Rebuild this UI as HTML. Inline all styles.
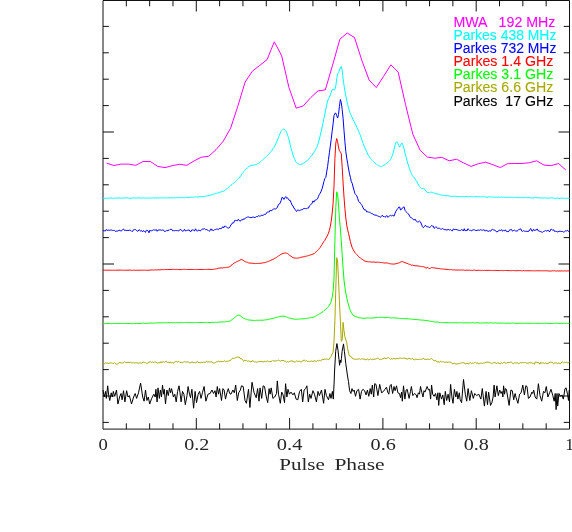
<!DOCTYPE html>
<html><head><meta charset="utf-8"><title>Pulse profiles</title>
<style>
html,body{margin:0;padding:0;background:#fff;}
body{width:572px;height:532px;overflow:hidden;font-family:"Liberation Sans",sans-serif;}
svg{display:block;will-change:transform;}
</style></head><body>
<svg width="572" height="532" viewBox="0 0 572 532">
<rect width="572" height="532" fill="#fff"/>
<path d="M103.00,0.50 H569.50 V429.10 H103.00 Z" fill="none" stroke="#111" stroke-width="1"/>
<path d="M126.33,429.10 v-5.80 M126.33,0.50 v5.80 M149.65,429.10 v-5.80 M149.65,0.50 v5.80 M172.97,429.10 v-5.80 M172.97,0.50 v5.80 M196.30,429.10 v-11.00 M196.30,0.50 v11.00 M219.62,429.10 v-5.80 M219.62,0.50 v5.80 M242.95,429.10 v-5.80 M242.95,0.50 v5.80 M266.27,429.10 v-5.80 M266.27,0.50 v5.80 M289.60,429.10 v-11.00 M289.60,0.50 v11.00 M312.93,429.10 v-5.80 M312.93,0.50 v5.80 M336.25,429.10 v-5.80 M336.25,0.50 v5.80 M359.57,429.10 v-5.80 M359.57,0.50 v5.80 M382.90,429.10 v-11.00 M382.90,0.50 v11.00 M406.23,429.10 v-5.80 M406.23,0.50 v5.80 M429.55,429.10 v-5.80 M429.55,0.50 v5.80 M452.88,429.10 v-5.80 M452.88,0.50 v5.80 M476.20,429.10 v-11.00 M476.20,0.50 v11.00 M499.52,429.10 v-5.80 M499.52,0.50 v5.80 M522.85,429.10 v-5.80 M522.85,0.50 v5.80 M546.17,429.10 v-5.80 M546.17,0.50 v5.80 M103.00,26.40 h5.80 M569.50,26.40 h-5.80 M103.00,52.80 h5.80 M569.50,52.80 h-5.80 M103.00,79.20 h5.80 M569.50,79.20 h-5.80 M103.00,105.60 h5.80 M569.50,105.60 h-5.80 M103.00,132.00 h11.00 M569.50,132.00 h-11.00 M103.00,158.40 h5.80 M569.50,158.40 h-5.80 M103.00,184.80 h5.80 M569.50,184.80 h-5.80 M103.00,211.20 h5.80 M569.50,211.20 h-5.80 M103.00,237.60 h5.80 M569.50,237.60 h-5.80 M103.00,264.00 h11.00 M569.50,264.00 h-11.00 M103.00,290.40 h5.80 M569.50,290.40 h-5.80 M103.00,316.80 h5.80 M569.50,316.80 h-5.80 M103.00,343.20 h5.80 M569.50,343.20 h-5.80 M103.00,369.60 h5.80 M569.50,369.60 h-5.80 M103.00,396.00 h11.00 M569.50,396.00 h-11.00 M103.00,422.40 h5.80 M569.50,422.40 h-5.80" fill="none" stroke="#111" stroke-width="1"/>
<path d="M106.6,163.2 L113.9,165.5 L121.2,164.1 L128.5,164.1 L135.8,165.3 L143.1,161.5 L150.4,161.5 L157.7,166.4 L165.0,167.6 L172.2,165.7 L179.5,164.3 L186.8,165.3 L194.1,160.9 L201.4,157.2 L208.7,156.3 L216.0,149.7 L223.3,141.1 L230.6,128.2 L237.8,106.3 L245.1,82.1 L252.4,71.1 L259.7,65.5 L267.0,59.7 L274.3,41.8 L281.6,55.5 L288.9,87.4 L296.2,108.2 L303.4,105.8 L310.7,97.6 L318.0,90.9 L325.3,89.9 L332.6,65.1 L339.9,39.2 L347.2,33.0 L354.5,37.5 L361.8,60.3 L369.1,80.0 L376.3,87.6 L383.6,76.3 L390.9,64.8 L398.2,72.1 L405.5,104.5 L412.8,134.1 L420.1,150.2 L427.4,157.1 L434.7,158.2 L441.9,157.4 L449.2,160.8 L456.5,159.2 L463.8,163.0 L471.1,166.4 L478.4,163.7 L485.7,162.2 L493.0,164.8 L500.3,167.5 L507.5,163.7 L514.8,163.5 L522.1,163.5 L529.4,162.7 L536.7,160.8 L544.0,165.1 L551.3,165.6 L558.6,163.5 L565.9,170.1" fill="none" stroke="#ff00ff" stroke-width="1" stroke-linejoin="round"/>
<path d="M103.0,198.1 L104.4,198.4 L105.3,198.2 L106.2,198.2 L107.1,198.2 L108.0,198.1 L108.9,198.0 L109.8,198.3 L110.7,198.2 L111.7,197.9 L112.6,198.4 L113.5,198.2 L114.4,198.0 L115.3,198.2 L116.2,198.0 L117.1,198.1 L118.0,198.2 L118.9,197.9 L119.9,198.1 L120.8,198.2 L121.7,198.2 L122.6,198.0 L123.5,198.1 L124.4,197.8 L125.3,198.0 L126.2,198.1 L127.1,197.8 L128.1,198.0 L129.0,198.2 L129.9,198.3 L130.8,198.1 L131.7,198.1 L132.6,197.9 L133.5,197.9 L134.4,197.8 L135.3,198.1 L136.3,198.1 L137.2,197.9 L138.1,197.9 L139.0,198.0 L139.9,198.0 L140.8,198.0 L141.7,198.2 L142.6,198.0 L143.5,198.0 L144.5,197.9 L145.4,198.0 L146.3,198.2 L147.2,198.0 L148.1,198.0 L149.0,198.1 L149.9,198.0 L150.8,198.1 L151.7,198.1 L152.7,198.1 L153.6,197.9 L154.5,198.0 L155.4,197.8 L156.3,198.0 L157.2,197.8 L158.1,198.0 L159.0,198.0 L159.9,197.9 L160.9,198.0 L161.8,197.8 L162.7,197.9 L163.6,198.0 L164.5,197.8 L165.4,198.0 L166.3,197.8 L167.2,197.8 L168.1,197.8 L169.1,197.9 L170.0,197.9 L170.9,197.7 L171.8,197.8 L172.7,198.0 L173.6,197.8 L174.5,197.7 L175.4,197.8 L176.3,197.7 L177.3,197.6 L178.2,197.5 L179.1,197.8 L180.0,197.6 L180.9,197.6 L181.8,197.5 L182.7,197.8 L183.6,197.7 L184.5,197.7 L185.5,197.5 L186.4,197.5 L187.3,197.6 L188.2,197.5 L189.1,197.4 L190.0,197.3 L190.9,197.3 L191.8,197.2 L192.7,197.1 L193.7,197.2 L194.6,197.1 L195.5,196.8 L196.4,197.0 L197.3,197.1 L198.2,196.9 L199.1,196.6 L200.0,196.7 L200.9,196.7 L201.9,196.6 L202.8,196.4 L203.7,196.6 L204.6,196.5 L205.5,196.1 L206.4,196.1 L207.3,195.9 L208.2,195.7 L209.1,195.6 L210.1,195.3 L211.0,194.9 L211.9,194.6 L212.8,194.3 L213.7,194.1 L214.6,194.0 L215.5,193.6 L216.4,193.3 L217.3,193.1 L218.3,192.9 L219.2,192.7 L220.1,192.2 L221.0,191.9 L221.9,191.7 L222.8,191.3 L223.7,191.2 L224.6,190.4 L225.5,189.8 L226.5,188.9 L227.4,188.4 L228.3,187.6 L229.2,187.1 L230.1,186.3 L231.0,185.4 L231.9,184.7 L232.8,183.6 L233.7,183.0 L234.7,182.4 L235.6,181.5 L236.5,180.6 L237.4,179.7 L238.3,178.6 L239.2,177.6 L240.1,176.8 L241.0,175.7 L241.9,173.8 L242.9,172.8 L243.8,171.5 L244.7,170.6 L245.6,169.4 L246.5,168.6 L247.4,167.9 L248.3,167.0 L249.2,166.4 L250.1,165.9 L251.1,165.6 L252.0,165.4 L252.9,165.2 L253.8,165.0 L254.7,164.8 L255.6,164.6 L256.5,164.5 L257.4,163.9 L258.3,163.4 L259.3,162.8 L260.2,162.1 L261.1,161.3 L262.0,160.4 L262.9,159.5 L263.8,158.8 L264.7,158.0 L265.6,157.4 L266.5,156.4 L267.5,155.6 L268.4,154.5 L269.3,153.7 L270.2,152.3 L271.1,151.4 L272.0,150.2 L272.9,148.6 L273.8,147.6 L274.7,145.8 L275.7,144.1 L276.6,142.0 L277.5,140.0 L278.4,137.6 L279.3,135.4 L280.2,133.2 L281.1,131.3 L282.0,130.3 L282.9,129.4 L283.9,129.0 L284.8,129.7 L285.7,130.6 L286.6,132.3 L287.5,134.8 L288.4,137.5 L289.3,140.6 L290.2,144.5 L291.1,148.5 L292.1,151.7 L293.0,154.9 L293.9,157.5 L294.8,159.5 L295.7,161.7 L296.6,162.5 L297.5,163.3 L298.4,164.0 L299.3,164.3 L300.3,164.4 L301.2,164.2 L302.1,164.1 L303.0,163.5 L303.9,163.1 L304.8,162.3 L305.7,161.7 L306.6,161.2 L307.5,160.0 L308.5,159.4 L309.4,158.1 L310.3,157.3 L311.2,156.1 L312.1,155.1 L313.0,153.8 L313.9,152.5 L314.8,151.2 L315.7,149.3 L316.7,147.6 L317.6,145.0 L318.5,142.3 L319.4,139.0 L320.3,135.0 L321.2,131.3 L322.1,127.1 L323.0,122.9 L323.9,118.4 L324.9,114.0 L325.8,109.2 L326.7,104.8 L327.6,101.1 L328.5,99.1 L329.4,97.3 L330.3,94.9 L331.2,92.3 L332.1,89.7 L333.1,89.1 L334.0,90.3 L334.9,89.5 L335.8,85.9 L336.7,78.9 L337.6,74.1 L338.5,72.7 L339.4,70.1 L340.4,67.9 L341.3,66.5 L342.2,70.5 L343.1,78.9 L344.0,85.2 L344.9,91.0 L345.8,95.9 L346.7,100.2 L347.6,104.4 L348.6,108.2 L349.5,111.2 L350.4,113.6 L351.3,115.5 L352.2,117.7 L353.1,119.7 L354.0,121.2 L354.9,123.2 L355.8,125.1 L356.8,127.1 L357.7,129.2 L358.6,131.1 L359.5,133.5 L360.4,135.5 L361.3,138.1 L362.2,140.9 L363.1,143.3 L364.0,145.8 L365.0,147.9 L365.9,150.0 L366.8,152.0 L367.7,154.0 L368.6,155.6 L369.5,157.1 L370.4,158.5 L371.3,159.3 L372.2,160.4 L373.2,161.4 L374.1,162.3 L375.0,163.0 L375.9,163.6 L376.8,164.5 L377.7,165.1 L378.6,165.7 L379.5,166.0 L380.4,166.4 L381.4,166.4 L382.3,166.0 L383.2,165.6 L384.1,165.1 L385.0,164.7 L385.9,163.6 L386.8,163.2 L387.7,162.4 L388.6,161.7 L389.6,160.7 L390.5,159.5 L391.4,157.9 L392.3,155.4 L393.2,152.8 L394.1,149.2 L395.0,145.7 L395.9,142.6 L396.8,141.6 L397.8,143.4 L398.7,145.5 L399.6,147.1 L400.5,145.2 L401.4,143.5 L402.3,143.6 L403.2,145.7 L404.1,149.0 L405.0,153.0 L406.0,156.7 L406.9,160.3 L407.8,163.5 L408.7,166.3 L409.6,168.8 L410.5,171.5 L411.4,173.5 L412.3,175.4 L413.2,176.5 L414.2,177.7 L415.1,179.0 L416.0,180.4 L416.9,181.8 L417.8,183.5 L418.7,185.3 L419.6,186.5 L420.5,187.6 L421.4,188.5 L422.4,188.4 L423.3,188.3 L424.2,188.6 L425.1,190.1 L426.0,191.5 L426.9,191.8 L427.8,192.7 L428.7,192.5 L429.6,192.6 L430.6,192.1 L431.5,192.2 L432.4,192.4 L433.3,192.7 L434.2,193.1 L435.1,193.3 L436.0,193.7 L436.9,194.0 L437.8,194.0 L438.8,194.3 L439.7,194.4 L440.6,194.9 L441.5,195.3 L442.4,195.3 L443.3,195.3 L444.2,195.4 L445.1,195.8 L446.0,195.7 L447.0,195.7 L447.9,195.9 L448.8,196.0 L449.7,196.1 L450.6,196.4 L451.5,196.4 L452.4,196.2 L453.3,196.4 L454.2,196.3 L455.2,196.3 L456.1,196.3 L457.0,196.7 L457.9,196.5 L458.8,196.6 L459.7,196.6 L460.6,196.5 L461.5,196.6 L462.4,196.6 L463.4,196.6 L464.3,196.8 L465.2,196.6 L466.1,196.5 L467.0,196.6 L467.9,196.8 L468.8,196.7 L469.7,196.5 L470.6,196.5 L471.6,196.5 L472.5,196.6 L473.4,196.7 L474.3,196.8 L475.2,196.4 L476.1,196.7 L477.0,196.6 L477.9,196.8 L478.8,196.9 L479.8,196.7 L480.7,196.7 L481.6,196.7 L482.5,196.9 L483.4,196.7 L484.3,196.7 L485.2,196.8 L486.1,197.1 L487.0,197.2 L488.0,197.0 L488.9,196.8 L489.8,197.0 L490.7,196.9 L491.6,197.1 L492.5,196.9 L493.4,197.0 L494.3,197.1 L495.2,197.2 L496.2,197.1 L497.1,197.3 L498.0,197.2 L498.9,197.0 L499.8,197.3 L500.7,197.2 L501.6,197.1 L502.5,197.4 L503.4,197.1 L504.4,197.3 L505.3,197.2 L506.2,197.5 L507.1,197.3 L508.0,197.4 L508.9,197.2 L509.8,197.6 L510.7,197.3 L511.6,197.5 L512.6,197.6 L513.5,197.6 L514.4,197.7 L515.3,197.3 L516.2,197.5 L517.1,197.5 L518.0,197.6 L518.9,197.7 L519.8,197.6 L520.8,197.5 L521.7,197.6 L522.6,197.8 L523.5,197.5 L524.4,197.6 L525.3,197.5 L526.2,197.8 L527.1,197.5 L528.0,197.6 L529.0,197.7 L529.9,197.7 L530.8,198.0 L531.7,197.9 L532.6,197.6 L533.5,198.0 L534.4,197.6 L535.3,197.6 L536.2,197.6 L537.2,197.9 L538.1,197.9 L539.0,197.6 L539.9,197.9 L540.8,197.9 L541.7,198.0 L542.6,197.9 L543.5,198.0 L544.4,198.0 L545.4,197.8 L546.3,198.1 L547.2,198.0 L548.1,198.1 L549.0,198.2 L549.9,197.9 L550.8,198.0 L551.7,198.0 L552.6,198.0 L553.6,198.1 L554.5,198.1 L555.4,198.3 L556.3,198.3 L557.2,198.1 L558.1,198.0 L559.0,198.5 L559.9,198.4 L560.8,198.2 L561.8,198.1 L562.7,198.2 L563.6,198.3 L564.5,198.4 L565.4,198.4 L566.3,198.3 L567.2,198.2 L568.1,198.3 L569.5,198.3" fill="none" stroke="#00ffff" stroke-width="1" stroke-linejoin="round"/>
<path d="M103.0,230.8 L104.4,230.7 L105.3,231.1 L106.2,229.6 L107.1,230.2 L108.0,230.4 L108.9,229.9 L109.8,230.4 L110.7,230.0 L111.7,230.1 L112.6,230.4 L113.5,230.5 L114.4,230.3 L115.3,231.4 L116.2,231.1 L117.1,231.1 L118.0,231.0 L118.9,230.4 L119.9,230.1 L120.8,231.2 L121.7,230.7 L122.6,229.6 L123.5,229.0 L124.4,230.4 L125.3,230.2 L126.2,230.6 L127.1,230.4 L128.1,230.4 L129.0,230.6 L129.9,229.9 L130.8,230.5 L131.7,231.4 L132.6,231.4 L133.5,229.8 L134.4,229.6 L135.3,229.5 L136.3,230.2 L137.2,231.2 L138.1,231.1 L139.0,229.7 L139.9,230.4 L140.8,231.2 L141.7,230.5 L142.6,231.9 L143.5,230.6 L144.5,231.4 L145.4,232.4 L146.3,230.3 L147.2,230.3 L148.1,230.9 L149.0,232.8 L149.9,230.1 L150.8,230.8 L151.7,230.8 L152.7,230.3 L153.6,229.9 L154.5,230.0 L155.4,230.1 L156.3,229.5 L157.2,231.3 L158.1,230.0 L159.0,230.0 L159.9,229.9 L160.9,230.0 L161.8,230.4 L162.7,229.9 L163.6,230.1 L164.5,231.5 L165.4,231.4 L166.3,230.5 L167.2,231.0 L168.1,230.0 L169.1,230.4 L170.0,229.4 L170.9,229.3 L171.8,229.4 L172.7,230.9 L173.6,230.6 L174.5,230.8 L175.4,230.5 L176.3,230.6 L177.3,230.6 L178.2,230.9 L179.1,230.5 L180.0,229.7 L180.9,229.5 L181.8,230.8 L182.7,231.3 L183.6,230.9 L184.5,229.3 L185.5,231.0 L186.4,230.6 L187.3,230.3 L188.2,230.2 L189.1,229.9 L190.0,231.3 L190.9,231.6 L191.8,229.9 L192.7,229.9 L193.7,230.3 L194.6,231.0 L195.5,228.8 L196.4,230.3 L197.3,231.3 L198.2,230.2 L199.1,230.1 L200.0,230.9 L200.9,230.6 L201.9,229.3 L202.8,229.0 L203.7,229.0 L204.6,228.8 L205.5,229.6 L206.4,229.5 L207.3,229.9 L208.2,230.4 L209.1,231.3 L210.1,230.5 L211.0,228.8 L211.9,230.5 L212.8,229.9 L213.7,230.6 L214.6,229.6 L215.5,229.6 L216.4,229.2 L217.3,229.0 L218.3,229.7 L219.2,228.5 L220.1,228.6 L221.0,228.6 L221.9,228.1 L222.8,226.7 L223.7,227.9 L224.6,226.1 L225.5,226.3 L226.5,227.0 L227.4,227.7 L228.3,228.1 L229.2,227.9 L230.1,226.7 L231.0,224.6 L231.9,224.1 L232.8,222.5 L233.7,222.8 L234.7,220.4 L235.6,220.4 L236.5,220.6 L237.4,220.8 L238.3,219.2 L239.2,220.6 L240.1,221.0 L241.0,220.7 L241.9,219.4 L242.9,220.0 L243.8,218.6 L244.7,218.9 L245.6,218.1 L246.5,217.6 L247.4,217.1 L248.3,216.9 L249.2,217.3 L250.1,217.6 L251.1,217.6 L252.0,217.3 L252.9,217.1 L253.8,217.0 L254.7,218.0 L255.6,216.9 L256.5,216.5 L257.4,216.8 L258.3,215.7 L259.3,216.1 L260.2,216.2 L261.1,215.3 L262.0,215.1 L262.9,215.6 L263.8,214.8 L264.7,214.3 L265.6,214.4 L266.5,213.0 L267.5,211.9 L268.4,211.9 L269.3,211.9 L270.2,210.1 L271.1,210.9 L272.0,210.2 L272.9,209.6 L273.8,208.9 L274.7,208.8 L275.7,209.1 L276.6,208.2 L277.5,207.0 L278.4,204.6 L279.3,204.2 L280.2,202.9 L281.1,200.6 L282.0,197.3 L282.9,197.7 L283.9,199.4 L284.8,197.8 L285.7,196.6 L286.6,198.3 L287.5,197.8 L288.4,199.1 L289.3,200.4 L290.2,200.3 L291.1,202.7 L292.1,205.2 L293.0,205.9 L293.9,208.0 L294.8,209.1 L295.7,210.5 L296.6,211.5 L297.5,210.0 L298.4,210.2 L299.3,210.7 L300.3,210.2 L301.2,209.8 L302.1,209.6 L303.0,209.2 L303.9,208.4 L304.8,208.5 L305.7,208.7 L306.6,208.5 L307.5,208.1 L308.5,208.1 L309.4,205.9 L310.3,205.2 L311.2,204.2 L312.1,203.2 L313.0,200.9 L313.9,202.2 L314.8,200.3 L315.7,200.0 L316.7,199.6 L317.6,198.8 L318.5,196.3 L319.4,194.4 L320.3,193.0 L321.2,191.1 L322.1,188.7 L323.0,185.2 L323.9,181.6 L324.9,178.4 L325.8,177.4 L326.7,171.9 L327.6,166.6 L328.5,159.3 L329.4,152.7 L330.3,146.1 L331.2,139.5 L332.1,131.7 L333.1,123.8 L334.0,115.5 L334.9,113.4 L335.8,113.1 L336.7,115.6 L337.6,118.1 L338.5,114.6 L339.4,106.5 L340.4,99.5 L341.3,102.7 L342.2,109.7 L343.1,118.3 L344.0,130.4 L344.9,141.6 L345.8,151.4 L346.7,157.9 L347.6,163.2 L348.6,169.0 L349.5,173.8 L350.4,177.3 L351.3,181.6 L352.2,183.3 L353.1,187.0 L354.0,190.1 L354.9,193.5 L355.8,194.7 L356.8,195.8 L357.7,198.4 L358.6,201.4 L359.5,202.0 L360.4,203.2 L361.3,204.4 L362.2,205.7 L363.1,207.8 L364.0,209.6 L365.0,209.8 L365.9,210.1 L366.8,212.0 L367.7,211.8 L368.6,212.1 L369.5,212.3 L370.4,212.7 L371.3,213.5 L372.2,213.6 L373.2,214.4 L374.1,214.7 L375.0,215.3 L375.9,215.1 L376.8,215.4 L377.7,216.0 L378.6,216.3 L379.5,216.5 L380.4,217.4 L381.4,216.1 L382.3,215.2 L383.2,216.6 L384.1,216.3 L385.0,217.3 L385.9,216.5 L386.8,215.5 L387.7,217.3 L388.6,216.6 L389.6,215.8 L390.5,215.3 L391.4,215.9 L392.3,215.3 L393.2,215.7 L394.1,216.1 L395.0,213.4 L395.9,211.3 L396.8,209.8 L397.8,208.6 L398.7,207.1 L399.6,207.0 L400.5,210.0 L401.4,209.5 L402.3,208.0 L403.2,207.3 L404.1,206.9 L405.0,210.3 L406.0,211.4 L406.9,212.7 L407.8,213.6 L408.7,214.2 L409.6,216.1 L410.5,217.5 L411.4,217.8 L412.3,218.4 L413.2,219.6 L414.2,219.9 L415.1,219.1 L416.0,220.9 L416.9,221.4 L417.8,222.2 L418.7,221.7 L419.6,221.0 L420.5,221.9 L421.4,224.1 L422.4,226.5 L423.3,227.7 L424.2,226.8 L425.1,225.4 L426.0,225.9 L426.9,226.6 L427.8,226.9 L428.7,226.9 L429.6,227.8 L430.6,226.6 L431.5,225.5 L432.4,226.0 L433.3,226.1 L434.2,228.4 L435.1,227.6 L436.0,226.6 L436.9,227.8 L437.8,228.5 L438.8,228.2 L439.7,228.4 L440.6,229.1 L441.5,229.1 L442.4,228.4 L443.3,229.1 L444.2,229.6 L445.1,229.5 L446.0,229.9 L447.0,230.0 L447.9,229.5 L448.8,229.5 L449.7,230.1 L450.6,229.6 L451.5,230.6 L452.4,230.9 L453.3,228.9 L454.2,229.6 L455.2,229.4 L456.1,229.4 L457.0,229.9 L457.9,229.9 L458.8,230.4 L459.7,230.4 L460.6,230.4 L461.5,229.7 L462.4,229.8 L463.4,231.0 L464.3,228.7 L465.2,230.9 L466.1,230.0 L467.0,230.9 L467.9,228.7 L468.8,229.5 L469.7,230.5 L470.6,230.4 L471.6,231.0 L472.5,229.9 L473.4,229.8 L474.3,229.7 L475.2,230.4 L476.1,230.6 L477.0,230.3 L477.9,230.1 L478.8,230.1 L479.8,230.3 L480.7,229.7 L481.6,230.1 L482.5,230.2 L483.4,229.9 L484.3,229.9 L485.2,231.2 L486.1,230.2 L487.0,230.6 L488.0,231.4 L488.9,231.2 L489.8,230.7 L490.7,231.2 L491.6,229.7 L492.5,229.4 L493.4,229.9 L494.3,230.1 L495.2,230.3 L496.2,231.7 L497.1,232.0 L498.0,230.9 L498.9,230.8 L499.8,230.0 L500.7,230.6 L501.6,229.6 L502.5,231.2 L503.4,230.4 L504.4,230.9 L505.3,229.8 L506.2,231.3 L507.1,231.2 L508.0,232.1 L508.9,231.1 L509.8,229.7 L510.7,229.8 L511.6,229.5 L512.6,231.3 L513.5,230.4 L514.4,230.1 L515.3,230.9 L516.2,230.9 L517.1,231.1 L518.0,230.5 L518.9,229.3 L519.8,229.4 L520.8,228.8 L521.7,231.0 L522.6,231.4 L523.5,230.7 L524.4,231.1 L525.3,231.3 L526.2,231.3 L527.1,231.3 L528.0,231.5 L529.0,231.0 L529.9,229.4 L530.8,228.5 L531.7,230.9 L532.6,231.2 L533.5,229.2 L534.4,230.5 L535.3,230.1 L536.2,230.2 L537.2,228.9 L538.1,230.8 L539.0,230.8 L539.9,231.4 L540.8,231.7 L541.7,232.0 L542.6,232.3 L543.5,231.5 L544.4,231.2 L545.4,230.5 L546.3,231.1 L547.2,230.8 L548.1,230.1 L549.0,231.5 L549.9,231.5 L550.8,229.3 L551.7,229.2 L552.6,230.3 L553.6,229.8 L554.5,231.4 L555.4,231.2 L556.3,231.4 L557.2,231.7 L558.1,232.1 L559.0,231.1 L559.9,231.4 L560.8,231.3 L561.8,231.6 L562.7,231.5 L563.6,232.1 L564.5,231.7 L565.4,230.9 L566.3,231.0 L567.2,230.3 L568.1,231.0 L569.5,232.0" fill="none" stroke="#0000ff" stroke-width="1" stroke-linejoin="round"/>
<path d="M103.0,270.2 L104.4,270.1 L105.3,270.2 L106.2,270.2 L107.1,270.2 L108.0,270.2 L108.9,270.2 L109.8,270.1 L110.7,270.3 L111.7,270.2 L112.6,270.2 L113.5,270.3 L114.4,270.2 L115.3,270.2 L116.2,270.2 L117.1,270.2 L118.0,270.2 L118.9,270.2 L119.9,270.1 L120.8,270.1 L121.7,270.1 L122.6,270.2 L123.5,270.3 L124.4,270.2 L125.3,270.2 L126.2,270.2 L127.1,270.3 L128.1,270.1 L129.0,270.3 L129.9,270.0 L130.8,270.1 L131.7,270.3 L132.6,270.3 L133.5,270.2 L134.4,270.2 L135.3,270.3 L136.3,270.2 L137.2,270.3 L138.1,270.3 L139.0,270.3 L139.9,270.1 L140.8,270.3 L141.7,270.2 L142.6,270.2 L143.5,270.2 L144.5,270.2 L145.4,270.2 L146.3,270.2 L147.2,270.2 L148.1,270.4 L149.0,270.1 L149.9,270.2 L150.8,270.0 L151.7,270.0 L152.7,269.9 L153.6,270.1 L154.5,269.9 L155.4,269.9 L156.3,269.9 L157.2,269.9 L158.1,269.8 L159.0,269.8 L159.9,269.9 L160.9,269.7 L161.8,269.6 L162.7,269.6 L163.6,269.7 L164.5,269.6 L165.4,269.5 L166.3,269.5 L167.2,269.5 L168.1,269.4 L169.1,269.7 L170.0,269.5 L170.9,269.5 L171.8,269.5 L172.7,269.3 L173.6,269.4 L174.5,269.5 L175.4,269.5 L176.3,269.4 L177.3,269.6 L178.2,269.5 L179.1,269.6 L180.0,269.6 L180.9,269.5 L181.8,269.7 L182.7,269.5 L183.6,269.3 L184.5,269.3 L185.5,269.5 L186.4,269.5 L187.3,269.5 L188.2,269.6 L189.1,269.4 L190.0,269.5 L190.9,269.5 L191.8,269.4 L192.7,269.5 L193.7,269.5 L194.6,269.5 L195.5,269.6 L196.4,269.5 L197.3,269.4 L198.2,269.5 L199.1,269.5 L200.0,269.5 L200.9,269.5 L201.9,269.5 L202.8,269.5 L203.7,269.4 L204.6,269.5 L205.5,269.5 L206.4,269.4 L207.3,269.4 L208.2,269.4 L209.1,269.3 L210.1,269.4 L211.0,269.5 L211.9,269.5 L212.8,269.4 L213.7,269.3 L214.6,269.2 L215.5,268.9 L216.4,268.8 L217.3,268.6 L218.3,268.3 L219.2,268.1 L220.1,268.1 L221.0,267.9 L221.9,267.9 L222.8,268.0 L223.7,267.7 L224.6,267.6 L225.5,267.6 L226.5,267.4 L227.4,267.3 L228.3,267.2 L229.2,266.9 L230.1,266.4 L231.0,265.7 L231.9,264.9 L232.8,263.9 L233.7,263.4 L234.7,262.7 L235.6,262.3 L236.5,261.8 L237.4,261.4 L238.3,261.1 L239.2,260.6 L240.1,260.1 L241.0,259.6 L241.9,259.6 L242.9,260.1 L243.8,260.8 L244.7,261.4 L245.6,261.8 L246.5,262.1 L247.4,262.3 L248.3,262.8 L249.2,263.0 L250.1,263.2 L251.1,263.0 L252.0,263.3 L252.9,263.3 L253.8,263.4 L254.7,263.5 L255.6,263.6 L256.5,263.5 L257.4,263.5 L258.3,263.4 L259.3,263.3 L260.2,263.4 L261.1,263.1 L262.0,263.1 L262.9,262.9 L263.8,262.7 L264.7,262.6 L265.6,262.4 L266.5,262.0 L267.5,261.7 L268.4,261.4 L269.3,261.0 L270.2,260.5 L271.1,260.1 L272.0,259.8 L272.9,259.4 L273.8,258.9 L274.7,258.3 L275.7,257.9 L276.6,257.3 L277.5,256.6 L278.4,256.0 L279.3,255.5 L280.2,254.7 L281.1,254.3 L282.0,253.8 L282.9,253.6 L283.9,253.3 L284.8,252.9 L285.7,253.0 L286.6,253.2 L287.5,253.5 L288.4,254.2 L289.3,255.0 L290.2,255.7 L291.1,256.3 L292.1,257.1 L293.0,257.5 L293.9,258.0 L294.8,258.0 L295.7,258.1 L296.6,258.2 L297.5,258.1 L298.4,258.0 L299.3,257.8 L300.3,257.5 L301.2,257.2 L302.1,257.1 L303.0,256.9 L303.9,256.8 L304.8,256.6 L305.7,256.2 L306.6,256.1 L307.5,255.9 L308.5,255.5 L309.4,255.3 L310.3,255.0 L311.2,254.7 L312.1,254.4 L313.0,254.0 L313.9,253.8 L314.8,252.9 L315.7,252.1 L316.7,251.4 L317.6,250.5 L318.5,249.6 L319.4,248.4 L320.3,247.3 L321.2,245.8 L322.1,244.5 L323.0,242.9 L323.9,241.5 L324.9,240.3 L325.8,238.4 L326.7,236.9 L327.6,235.0 L328.5,233.2 L329.4,230.3 L330.3,226.5 L331.2,221.2 L332.1,214.0 L333.1,203.3 L334.0,186.3 L334.9,158.5 L335.8,143.1 L336.7,138.5 L337.6,141.7 L338.5,147.1 L339.4,150.8 L340.4,151.9 L341.3,153.7 L342.2,167.3 L343.1,182.9 L344.0,197.1 L344.9,208.5 L345.8,217.9 L346.7,224.9 L347.6,229.7 L348.6,233.6 L349.5,237.8 L350.4,241.5 L351.3,245.0 L352.2,247.5 L353.1,249.4 L354.0,251.0 L354.9,252.5 L355.8,253.6 L356.8,254.6 L357.7,255.7 L358.6,256.5 L359.5,257.2 L360.4,258.1 L361.3,258.8 L362.2,259.3 L363.1,259.9 L364.0,260.6 L365.0,261.2 L365.9,261.4 L366.8,261.6 L367.7,261.7 L368.6,261.8 L369.5,261.9 L370.4,261.9 L371.3,262.0 L372.2,262.2 L373.2,262.0 L374.1,262.1 L375.0,262.1 L375.9,262.4 L376.8,262.1 L377.7,262.2 L378.6,262.3 L379.5,262.3 L380.4,262.5 L381.4,262.6 L382.3,262.5 L383.2,262.8 L384.1,263.0 L385.0,262.9 L385.9,263.0 L386.8,262.9 L387.7,263.2 L388.6,263.3 L389.6,263.6 L390.5,263.9 L391.4,263.9 L392.3,264.0 L393.2,264.1 L394.1,264.1 L395.0,263.9 L395.9,263.7 L396.8,263.5 L397.8,263.2 L398.7,263.0 L399.6,262.6 L400.5,262.1 L401.4,261.8 L402.3,261.6 L403.2,261.9 L404.1,262.2 L405.0,262.7 L406.0,263.0 L406.9,263.4 L407.8,263.6 L408.7,264.1 L409.6,264.4 L410.5,264.7 L411.4,265.2 L412.3,265.1 L413.2,265.4 L414.2,265.6 L415.1,265.7 L416.0,265.9 L416.9,265.8 L417.8,266.0 L418.7,266.0 L419.6,266.3 L420.5,266.4 L421.4,266.4 L422.4,266.6 L423.3,266.7 L424.2,267.0 L425.1,267.6 L426.0,268.1 L426.9,267.8 L427.8,267.4 L428.7,268.2 L429.6,268.5 L430.6,268.2 L431.5,267.6 L432.4,267.6 L433.3,267.9 L434.2,267.8 L435.1,268.1 L436.0,268.1 L436.9,268.3 L437.8,268.4 L438.8,268.5 L439.7,268.7 L440.6,268.8 L441.5,269.0 L442.4,269.0 L443.3,269.0 L444.2,269.1 L445.1,269.2 L446.0,269.3 L447.0,269.4 L447.9,269.5 L448.8,269.6 L449.7,269.7 L450.6,269.6 L451.5,269.7 L452.4,269.9 L453.3,269.9 L454.2,269.9 L455.2,270.0 L456.1,270.1 L457.0,270.0 L457.9,270.1 L458.8,270.0 L459.7,270.1 L460.6,270.1 L461.5,270.0 L462.4,270.2 L463.4,269.9 L464.3,270.2 L465.2,270.3 L466.1,270.2 L467.0,270.1 L467.9,270.3 L468.8,270.1 L469.7,270.2 L470.6,270.4 L471.6,270.3 L472.5,270.4 L473.4,270.2 L474.3,270.1 L475.2,270.3 L476.1,270.4 L477.0,270.4 L477.9,270.4 L478.8,270.3 L479.8,270.3 L480.7,270.3 L481.6,270.6 L482.5,270.4 L483.4,270.5 L484.3,270.4 L485.2,270.5 L486.1,270.3 L487.0,270.4 L488.0,270.4 L488.9,270.4 L489.8,270.4 L490.7,270.4 L491.6,270.4 L492.5,270.6 L493.4,270.5 L494.3,270.3 L495.2,270.6 L496.2,270.5 L497.1,270.5 L498.0,270.5 L498.9,270.6 L499.8,270.6 L500.7,270.5 L501.6,270.5 L502.5,270.4 L503.4,270.7 L504.4,270.5 L505.3,270.5 L506.2,270.5 L507.1,270.6 L508.0,270.6 L508.9,270.6 L509.8,270.6 L510.7,270.6 L511.6,270.7 L512.6,270.6 L513.5,270.5 L514.4,270.7 L515.3,270.7 L516.2,270.8 L517.1,270.6 L518.0,270.6 L518.9,270.7 L519.8,270.6 L520.8,270.6 L521.7,270.8 L522.6,270.8 L523.5,270.5 L524.4,270.8 L525.3,270.7 L526.2,270.8 L527.1,270.7 L528.0,270.8 L529.0,270.7 L529.9,270.8 L530.8,270.7 L531.7,270.8 L532.6,270.8 L533.5,270.8 L534.4,270.8 L535.3,270.8 L536.2,270.8 L537.2,270.7 L538.1,270.8 L539.0,270.8 L539.9,270.8 L540.8,270.7 L541.7,270.9 L542.6,270.8 L543.5,270.8 L544.4,270.8 L545.4,270.8 L546.3,270.8 L547.2,270.8 L548.1,270.8 L549.0,271.1 L549.9,271.0 L550.8,271.1 L551.7,270.9 L552.6,270.8 L553.6,270.8 L554.5,270.7 L555.4,271.0 L556.3,271.0 L557.2,270.9 L558.1,271.0 L559.0,271.0 L559.9,270.9 L560.8,271.0 L561.8,270.9 L562.7,270.9 L563.6,271.0 L564.5,270.8 L565.4,270.9 L566.3,271.0 L567.2,271.0 L568.1,270.8 L569.5,271.1" fill="none" stroke="#ff0000" stroke-width="1" stroke-linejoin="round"/>
<path d="M103.0,323.5 L104.4,323.6 L105.3,323.5 L106.2,323.6 L107.1,323.4 L108.0,323.5 L108.9,323.4 L109.8,323.5 L110.7,323.6 L111.7,323.7 L112.6,323.5 L113.5,323.5 L114.4,323.6 L115.3,323.5 L116.2,323.7 L117.1,323.6 L118.0,323.3 L118.9,323.5 L119.9,323.5 L120.8,323.4 L121.7,323.5 L122.6,323.5 L123.5,323.5 L124.4,323.7 L125.3,323.5 L126.2,323.5 L127.1,323.5 L128.1,323.6 L129.0,323.4 L129.9,323.6 L130.8,323.5 L131.7,323.7 L132.6,323.6 L133.5,323.6 L134.4,323.5 L135.3,323.5 L136.3,323.5 L137.2,323.3 L138.1,323.4 L139.0,323.4 L139.9,323.6 L140.8,323.6 L141.7,323.3 L142.6,323.3 L143.5,323.2 L144.5,323.4 L145.4,323.4 L146.3,323.5 L147.2,323.2 L148.1,323.4 L149.0,323.2 L149.9,323.1 L150.8,323.1 L151.7,323.1 L152.7,323.2 L153.6,323.1 L154.5,323.2 L155.4,323.0 L156.3,322.8 L157.2,322.9 L158.1,323.0 L159.0,322.8 L159.9,322.8 L160.9,322.9 L161.8,322.7 L162.7,322.9 L163.6,322.8 L164.5,322.7 L165.4,322.8 L166.3,322.7 L167.2,322.7 L168.1,322.7 L169.1,322.7 L170.0,322.7 L170.9,322.6 L171.8,322.6 L172.7,322.9 L173.6,322.6 L174.5,322.6 L175.4,322.8 L176.3,322.7 L177.3,322.6 L178.2,322.8 L179.1,322.8 L180.0,322.6 L180.9,322.5 L181.8,322.7 L182.7,322.6 L183.6,322.6 L184.5,322.5 L185.5,322.5 L186.4,322.6 L187.3,322.7 L188.2,322.4 L189.1,322.3 L190.0,322.7 L190.9,322.5 L191.8,322.6 L192.7,322.6 L193.7,322.7 L194.6,322.6 L195.5,322.5 L196.4,322.5 L197.3,322.6 L198.2,322.6 L199.1,322.5 L200.0,322.4 L200.9,322.5 L201.9,322.5 L202.8,322.5 L203.7,322.4 L204.6,322.5 L205.5,322.3 L206.4,322.4 L207.3,322.6 L208.2,322.3 L209.1,322.5 L210.1,322.5 L211.0,322.5 L211.9,322.2 L212.8,322.5 L213.7,322.4 L214.6,322.4 L215.5,322.3 L216.4,322.3 L217.3,322.4 L218.3,322.3 L219.2,322.0 L220.1,322.0 L221.0,322.0 L221.9,321.8 L222.8,322.1 L223.7,321.8 L224.6,321.9 L225.5,321.8 L226.5,321.6 L227.4,321.5 L228.3,321.4 L229.2,321.3 L230.1,321.1 L231.0,320.4 L231.9,319.7 L232.8,319.0 L233.7,318.4 L234.7,317.7 L235.6,316.9 L236.5,316.1 L237.4,315.6 L238.3,315.1 L239.2,315.1 L240.1,315.6 L241.0,316.3 L241.9,317.0 L242.9,317.7 L243.8,318.4 L244.7,318.5 L245.6,319.1 L246.5,319.4 L247.4,319.7 L248.3,319.9 L249.2,320.0 L250.1,320.2 L251.1,320.0 L252.0,320.4 L252.9,320.5 L253.8,320.3 L254.7,320.3 L255.6,320.6 L256.5,320.3 L257.4,320.3 L258.3,320.3 L259.3,320.3 L260.2,320.2 L261.1,320.1 L262.0,320.5 L262.9,320.1 L263.8,320.1 L264.7,319.9 L265.6,319.9 L266.5,319.7 L267.5,319.6 L268.4,319.4 L269.3,319.2 L270.2,319.0 L271.1,318.9 L272.0,318.4 L272.9,318.5 L273.8,318.2 L274.7,317.9 L275.7,317.5 L276.6,317.5 L277.5,317.1 L278.4,317.0 L279.3,316.5 L280.2,316.5 L281.1,316.3 L282.0,316.1 L282.9,316.1 L283.9,316.3 L284.8,316.3 L285.7,316.6 L286.6,317.1 L287.5,317.2 L288.4,317.8 L289.3,317.9 L290.2,318.2 L291.1,318.6 L292.1,318.7 L293.0,318.9 L293.9,319.1 L294.8,319.1 L295.7,319.3 L296.6,319.3 L297.5,319.1 L298.4,319.1 L299.3,319.1 L300.3,318.9 L301.2,318.9 L302.1,318.8 L303.0,318.8 L303.9,318.7 L304.8,318.6 L305.7,318.5 L306.6,318.4 L307.5,318.2 L308.5,318.0 L309.4,318.0 L310.3,317.8 L311.2,317.6 L312.1,317.5 L313.0,317.2 L313.9,317.0 L314.8,316.6 L315.7,316.0 L316.7,315.6 L317.6,314.9 L318.5,314.5 L319.4,313.9 L320.3,313.3 L321.2,312.9 L322.1,312.3 L323.0,311.6 L323.9,310.7 L324.9,310.1 L325.8,309.4 L326.7,308.6 L327.6,307.5 L328.5,306.5 L329.4,305.2 L330.3,303.7 L331.2,301.3 L332.1,297.6 L333.1,291.4 L334.0,278.5 L334.9,240.6 L335.8,207.2 L336.7,191.8 L337.6,194.0 L338.5,204.6 L339.4,218.2 L340.4,229.0 L341.3,241.2 L342.2,255.0 L343.1,268.5 L344.0,280.0 L344.9,287.3 L345.8,292.9 L346.7,297.5 L347.6,301.6 L348.6,305.1 L349.5,308.3 L350.4,310.8 L351.3,312.5 L352.2,314.0 L353.1,315.1 L354.0,315.8 L354.9,316.2 L355.8,316.6 L356.8,317.0 L357.7,317.3 L358.6,317.5 L359.5,317.9 L360.4,317.9 L361.3,318.1 L362.2,318.1 L363.1,318.2 L364.0,318.2 L365.0,318.1 L365.9,318.2 L366.8,318.0 L367.7,318.1 L368.6,318.0 L369.5,318.0 L370.4,318.1 L371.3,318.0 L372.2,318.0 L373.2,317.9 L374.1,317.9 L375.0,317.8 L375.9,317.6 L376.8,317.5 L377.7,317.5 L378.6,317.4 L379.5,317.4 L380.4,317.4 L381.4,317.3 L382.3,317.2 L383.2,317.5 L384.1,317.6 L385.0,317.6 L385.9,317.9 L386.8,317.4 L387.7,317.5 L388.6,317.4 L389.6,317.6 L390.5,317.9 L391.4,317.9 L392.3,317.7 L393.2,317.9 L394.1,317.9 L395.0,317.9 L395.9,318.1 L396.8,318.1 L397.8,318.2 L398.7,318.3 L399.6,318.4 L400.5,318.5 L401.4,318.4 L402.3,318.5 L403.2,318.6 L404.1,318.7 L405.0,318.7 L406.0,318.6 L406.9,318.8 L407.8,318.9 L408.7,318.8 L409.6,319.1 L410.5,318.9 L411.4,319.2 L412.3,319.3 L413.2,319.3 L414.2,319.4 L415.1,319.4 L416.0,319.7 L416.9,319.6 L417.8,319.6 L418.7,319.8 L419.6,320.0 L420.5,320.0 L421.4,320.0 L422.4,320.2 L423.3,320.1 L424.2,320.3 L425.1,320.3 L426.0,320.7 L426.9,320.5 L427.8,320.7 L428.7,321.0 L429.6,321.1 L430.6,321.4 L431.5,321.4 L432.4,321.4 L433.3,321.7 L434.2,321.8 L435.1,322.0 L436.0,322.1 L436.9,322.1 L437.8,322.0 L438.8,322.2 L439.7,322.6 L440.6,322.5 L441.5,322.3 L442.4,322.6 L443.3,322.7 L444.2,322.7 L445.1,322.7 L446.0,322.5 L447.0,322.7 L447.9,322.7 L448.8,322.9 L449.7,322.7 L450.6,322.7 L451.5,322.7 L452.4,322.8 L453.3,322.8 L454.2,322.7 L455.2,322.7 L456.1,322.7 L457.0,322.8 L457.9,322.8 L458.8,322.8 L459.7,322.7 L460.6,322.7 L461.5,322.6 L462.4,322.9 L463.4,322.9 L464.3,322.9 L465.2,322.8 L466.1,322.9 L467.0,322.7 L467.9,322.7 L468.8,323.0 L469.7,322.7 L470.6,322.8 L471.6,322.8 L472.5,322.6 L473.4,322.8 L474.3,322.9 L475.2,323.0 L476.1,322.6 L477.0,322.7 L477.9,322.8 L478.8,323.0 L479.8,323.0 L480.7,323.0 L481.6,323.1 L482.5,322.9 L483.4,322.8 L484.3,323.0 L485.2,322.9 L486.1,322.9 L487.0,322.9 L488.0,322.9 L488.9,323.1 L489.8,322.9 L490.7,322.8 L491.6,322.9 L492.5,323.0 L493.4,323.0 L494.3,323.0 L495.2,322.8 L496.2,323.0 L497.1,323.2 L498.0,323.0 L498.9,323.0 L499.8,323.2 L500.7,323.0 L501.6,323.2 L502.5,323.1 L503.4,323.2 L504.4,323.2 L505.3,323.4 L506.2,323.3 L507.1,323.1 L508.0,323.1 L508.9,323.2 L509.8,323.2 L510.7,323.3 L511.6,323.2 L512.6,323.2 L513.5,323.1 L514.4,323.2 L515.3,323.3 L516.2,323.4 L517.1,323.3 L518.0,323.3 L518.9,323.2 L519.8,323.3 L520.8,323.3 L521.7,323.3 L522.6,323.3 L523.5,323.3 L524.4,323.3 L525.3,323.5 L526.2,323.2 L527.1,323.2 L528.0,323.4 L529.0,323.2 L529.9,323.3 L530.8,323.3 L531.7,323.2 L532.6,323.4 L533.5,323.4 L534.4,323.3 L535.3,323.4 L536.2,323.4 L537.2,323.3 L538.1,323.4 L539.0,323.4 L539.9,323.3 L540.8,323.3 L541.7,323.5 L542.6,323.4 L543.5,323.2 L544.4,323.4 L545.4,323.1 L546.3,323.4 L547.2,323.4 L548.1,323.5 L549.0,323.4 L549.9,323.3 L550.8,323.6 L551.7,323.5 L552.6,323.5 L553.6,323.4 L554.5,323.4 L555.4,323.2 L556.3,323.4 L557.2,323.2 L558.1,323.3 L559.0,323.2 L559.9,323.5 L560.8,323.5 L561.8,323.3 L562.7,323.5 L563.6,323.4 L564.5,323.2 L565.4,323.4 L566.3,323.2 L567.2,323.4 L568.1,323.4 L569.5,323.3" fill="none" stroke="#00ff00" stroke-width="1" stroke-linejoin="round"/>
<path d="M103.0,363.6 L104.4,363.8 L105.3,362.9 L106.2,363.3 L107.1,363.1 L108.0,363.0 L108.9,363.8 L109.8,363.0 L110.7,362.9 L111.7,363.0 L112.6,363.3 L113.5,363.5 L114.4,362.7 L115.3,363.6 L116.2,364.1 L117.1,364.3 L118.0,363.5 L118.9,362.9 L119.9,362.4 L120.8,362.9 L121.7,362.9 L122.6,362.9 L123.5,362.6 L124.4,361.8 L125.3,362.4 L126.2,362.6 L127.1,362.6 L128.1,362.1 L129.0,362.5 L129.9,362.6 L130.8,362.2 L131.7,362.9 L132.6,362.8 L133.5,362.8 L134.4,363.0 L135.3,362.7 L136.3,362.7 L137.2,362.9 L138.1,363.1 L139.0,363.2 L139.9,362.8 L140.8,363.0 L141.7,363.3 L142.6,362.2 L143.5,362.2 L144.5,362.4 L145.4,362.5 L146.3,363.4 L147.2,363.4 L148.1,362.7 L149.0,362.5 L149.9,361.8 L150.8,361.8 L151.7,362.8 L152.7,361.7 L153.6,362.5 L154.5,362.1 L155.4,362.1 L156.3,362.2 L157.2,363.2 L158.1,362.8 L159.0,362.7 L159.9,362.9 L160.9,361.5 L161.8,362.9 L162.7,361.7 L163.6,361.7 L164.5,362.4 L165.4,361.7 L166.3,361.2 L167.2,362.4 L168.1,362.1 L169.1,362.6 L170.0,362.6 L170.9,362.2 L171.8,363.0 L172.7,362.3 L173.6,363.2 L174.5,362.1 L175.4,361.6 L176.3,361.6 L177.3,362.1 L178.2,361.6 L179.1,361.6 L180.0,362.6 L180.9,362.4 L181.8,362.7 L182.7,362.5 L183.6,362.0 L184.5,361.7 L185.5,362.0 L186.4,362.1 L187.3,361.9 L188.2,361.8 L189.1,362.7 L190.0,362.8 L190.9,362.5 L191.8,362.1 L192.7,361.9 L193.7,363.0 L194.6,362.1 L195.5,363.2 L196.4,362.2 L197.3,361.4 L198.2,362.8 L199.1,362.3 L200.0,362.9 L200.9,362.6 L201.9,362.2 L202.8,362.6 L203.7,362.1 L204.6,362.3 L205.5,362.1 L206.4,361.3 L207.3,362.0 L208.2,361.8 L209.1,361.9 L210.1,362.2 L211.0,361.5 L211.9,362.1 L212.8,362.4 L213.7,363.1 L214.6,362.8 L215.5,362.4 L216.4,361.8 L217.3,361.8 L218.3,361.1 L219.2,361.7 L220.1,361.5 L221.0,361.4 L221.9,361.4 L222.8,361.6 L223.7,361.5 L224.6,360.8 L225.5,361.7 L226.5,361.3 L227.4,361.3 L228.3,361.2 L229.2,360.6 L230.1,360.7 L231.0,359.8 L231.9,358.7 L232.8,358.2 L233.7,358.3 L234.7,358.1 L235.6,357.8 L236.5,357.3 L237.4,357.2 L238.3,357.3 L239.2,357.0 L240.1,358.3 L241.0,358.8 L241.9,358.8 L242.9,360.3 L243.8,361.2 L244.7,360.2 L245.6,360.5 L246.5,360.5 L247.4,361.3 L248.3,360.7 L249.2,361.4 L250.1,361.6 L251.1,362.1 L252.0,360.8 L252.9,361.0 L253.8,361.3 L254.7,362.0 L255.6,361.8 L256.5,362.1 L257.4,362.1 L258.3,361.5 L259.3,361.6 L260.2,361.5 L261.1,361.5 L262.0,361.3 L262.9,361.9 L263.8,362.0 L264.7,360.9 L265.6,361.8 L266.5,361.4 L267.5,360.8 L268.4,361.8 L269.3,361.6 L270.2,361.6 L271.1,361.4 L272.0,361.3 L272.9,360.4 L273.8,361.2 L274.7,360.8 L275.7,360.9 L276.6,360.9 L277.5,360.5 L278.4,360.1 L279.3,360.5 L280.2,361.3 L281.1,360.7 L282.0,360.4 L282.9,360.7 L283.9,360.5 L284.8,361.3 L285.7,361.3 L286.6,362.2 L287.5,361.5 L288.4,362.3 L289.3,361.3 L290.2,361.4 L291.1,360.9 L292.1,361.0 L293.0,361.1 L293.9,361.6 L294.8,362.2 L295.7,361.6 L296.6,360.9 L297.5,361.3 L298.4,361.3 L299.3,361.2 L300.3,361.7 L301.2,362.0 L302.1,361.3 L303.0,361.0 L303.9,359.9 L304.8,360.5 L305.7,361.3 L306.6,360.7 L307.5,361.4 L308.5,361.4 L309.4,361.4 L310.3,361.4 L311.2,361.0 L312.1,361.3 L313.0,361.4 L313.9,361.1 L314.8,360.7 L315.7,361.2 L316.7,361.4 L317.6,360.4 L318.5,360.7 L319.4,360.3 L320.3,361.2 L321.2,360.2 L322.1,359.6 L323.0,359.2 L323.9,359.8 L324.9,358.9 L325.8,359.3 L326.7,358.8 L327.6,359.4 L328.5,359.6 L329.4,359.2 L330.3,357.3 L331.2,356.5 L332.1,354.0 L333.1,352.4 L334.0,341.4 L334.9,320.6 L335.8,288.2 L336.7,257.7 L337.6,261.0 L338.5,279.7 L339.4,300.4 L340.4,321.3 L341.3,341.4 L342.2,339.9 L343.1,322.4 L344.0,330.8 L344.9,336.7 L345.8,339.9 L346.7,342.3 L347.6,348.5 L348.6,353.2 L349.5,355.9 L350.4,356.2 L351.3,356.6 L352.2,358.2 L353.1,358.6 L354.0,359.1 L354.9,359.1 L355.8,359.4 L356.8,359.3 L357.7,359.0 L358.6,359.2 L359.5,358.8 L360.4,359.6 L361.3,358.8 L362.2,358.7 L363.1,359.3 L364.0,358.9 L365.0,359.4 L365.9,359.8 L366.8,359.6 L367.7,359.0 L368.6,359.8 L369.5,359.5 L370.4,358.7 L371.3,359.8 L372.2,359.3 L373.2,359.3 L374.1,359.4 L375.0,358.8 L375.9,359.2 L376.8,358.4 L377.7,358.2 L378.6,358.4 L379.5,359.7 L380.4,359.4 L381.4,359.5 L382.3,358.8 L383.2,359.0 L384.1,357.8 L385.0,358.3 L385.9,358.7 L386.8,358.4 L387.7,357.6 L388.6,357.5 L389.6,358.5 L390.5,359.2 L391.4,358.6 L392.3,359.3 L393.2,358.2 L394.1,358.7 L395.0,358.7 L395.9,359.1 L396.8,358.0 L397.8,358.8 L398.7,358.6 L399.6,358.1 L400.5,358.1 L401.4,358.2 L402.3,358.5 L403.2,358.1 L404.1,358.0 L405.0,358.4 L406.0,358.5 L406.9,358.9 L407.8,359.2 L408.7,358.1 L409.6,358.5 L410.5,358.9 L411.4,358.9 L412.3,358.5 L413.2,359.2 L414.2,359.9 L415.1,359.4 L416.0,358.9 L416.9,359.5 L417.8,359.4 L418.7,359.4 L419.6,359.4 L420.5,359.2 L421.4,359.3 L422.4,358.9 L423.3,358.2 L424.2,359.3 L425.1,359.3 L426.0,359.1 L426.9,359.6 L427.8,359.0 L428.7,359.4 L429.6,359.4 L430.6,358.9 L431.5,358.5 L432.4,359.4 L433.3,360.0 L434.2,360.9 L435.1,360.3 L436.0,361.0 L436.9,361.6 L437.8,361.9 L438.8,362.0 L439.7,362.2 L440.6,361.1 L441.5,361.8 L442.4,361.9 L443.3,361.6 L444.2,362.3 L445.1,362.4 L446.0,362.1 L447.0,361.9 L447.9,362.7 L448.8,361.6 L449.7,362.4 L450.6,362.2 L451.5,362.7 L452.4,363.8 L453.3,363.7 L454.2,363.2 L455.2,363.7 L456.1,364.1 L457.0,363.8 L457.9,364.1 L458.8,363.5 L459.7,363.4 L460.6,363.1 L461.5,362.8 L462.4,362.9 L463.4,362.6 L464.3,362.8 L465.2,364.0 L466.1,363.7 L467.0,363.1 L467.9,363.8 L468.8,364.0 L469.7,362.8 L470.6,362.6 L471.6,363.7 L472.5,363.3 L473.4,363.2 L474.3,362.8 L475.2,362.4 L476.1,363.3 L477.0,362.7 L477.9,363.2 L478.8,363.9 L479.8,363.6 L480.7,363.1 L481.6,363.3 L482.5,363.4 L483.4,362.9 L484.3,363.1 L485.2,362.5 L486.1,362.0 L487.0,362.4 L488.0,362.0 L488.9,362.3 L489.8,362.7 L490.7,363.0 L491.6,363.9 L492.5,362.9 L493.4,362.7 L494.3,362.7 L495.2,362.4 L496.2,363.8 L497.1,362.9 L498.0,362.9 L498.9,362.9 L499.8,364.1 L500.7,363.2 L501.6,362.7 L502.5,363.5 L503.4,362.9 L504.4,361.9 L505.3,363.2 L506.2,363.5 L507.1,362.5 L508.0,362.2 L508.9,362.7 L509.8,362.4 L510.7,362.1 L511.6,362.1 L512.6,363.5 L513.5,363.7 L514.4,362.7 L515.3,362.8 L516.2,363.0 L517.1,362.8 L518.0,362.9 L518.9,363.8 L519.8,363.0 L520.8,362.6 L521.7,362.8 L522.6,362.6 L523.5,362.6 L524.4,362.6 L525.3,362.4 L526.2,363.3 L527.1,362.8 L528.0,363.5 L529.0,362.8 L529.9,362.4 L530.8,362.9 L531.7,362.8 L532.6,363.3 L533.5,363.4 L534.4,364.2 L535.3,362.0 L536.2,362.1 L537.2,362.6 L538.1,362.7 L539.0,362.9 L539.9,364.2 L540.8,362.3 L541.7,363.1 L542.6,362.9 L543.5,362.9 L544.4,363.5 L545.4,363.1 L546.3,363.4 L547.2,363.7 L548.1,363.8 L549.0,362.4 L549.9,362.4 L550.8,362.1 L551.7,362.3 L552.6,362.6 L553.6,363.8 L554.5,363.0 L555.4,362.8 L556.3,362.8 L557.2,363.6 L558.1,362.9 L559.0,363.2 L559.9,363.4 L560.8,363.4 L561.8,362.1 L562.7,362.0 L563.6,362.9 L564.5,362.1 L565.4,362.5 L566.3,362.1 L567.2,362.8 L568.1,362.9 L569.5,362.1" fill="none" stroke="#a8a800" stroke-width="1" stroke-linejoin="round"/>
<path d="M103.0,390.0 L104.2,397.0 L105.6,391.4 L106.3,398.4 L107.7,385.8 L108.7,395.6 L109.8,400.5 L111.2,392.8 L112.3,397.0 L113.3,391.4 L114.7,396.3 L116.5,390.0 L117.9,404.0 L119.6,397.0 L121.0,393.5 L122.1,399.8 L123.5,390.7 L124.9,401.9 L126.6,390.7 L128.0,397.0 L129.4,395.6 L131.5,404.0 L133.6,397.0 L135.2,393.5 L136.6,398.4 L138.5,392.8 L140.6,383.0 L142.7,397.0 L144.1,401.2 L145.5,390.0 L146.9,400.5 L148.3,397.0 L149.7,404.0 L151.7,398.4 L153.8,394.2 L155.2,397.0 L155.9,389.3 L157.1,401.9 L158.0,387.9 L159.4,398.4 L160.4,390.0 L161.5,397.0 L162.5,385.1 L163.6,394.2 L164.3,389.3 L165.5,404.0 L166.9,390.0 L168.3,395.6 L169.5,387.9 L170.6,392.8 L171.6,388.6 L173.4,397.0 L174.8,394.2 L176.2,401.9 L177.6,391.4 L179.0,385.8 L180.0,392.8 L181.1,401.9 L182.5,391.4 L183.9,394.2 L185.3,404.7 L187.0,395.6 L188.1,386.5 L189.5,394.2 L190.5,397.7 L191.9,389.3 L193.6,408.2 L195.1,391.4 L196.5,402.6 L198.2,394.2 L199.6,391.4 L201.0,398.4 L202.4,392.8 L204.1,386.5 L205.9,401.2 L208.0,394.2 L210.1,393.5 L211.9,390.0 L213.6,393.5 L215.0,390.7 L216.1,397.0 L217.3,386.5 L218.5,394.2 L219.6,388.6 L221.5,400.5 L222.9,388.6 L224.1,390.0 L225.5,399.1 L226.9,392.8 L228.3,388.6 L229.7,393.5 L231.0,394.2 L232.9,390.0 L234.3,392.8 L235.7,385.1 L237.3,400.5 L238.7,392.8 L240.4,390.0 L241.5,385.8 L243.2,386.5 L245.0,400.5 L246.4,403.3 L248.5,389.3 L249.9,407.5 L252.0,382.3 L254.1,392.8 L256.2,397.7 L257.6,388.6 L259.0,401.2 L260.0,387.9 L261.7,398.4 L263.1,385.8 L264.5,386.5 L266.3,397.0 L267.7,402.6 L269.1,388.6 L270.1,394.2 L271.2,387.9 L272.9,398.4 L274.7,397.0 L276.5,393.5 L277.3,380.9 L278.5,394.2 L280.3,403.3 L281.7,392.1 L283.1,394.9 L284.5,402.6 L285.6,383.7 L286.9,397.0 L288.0,389.3 L289.4,394.2 L291.0,392.1 L292.9,394.9 L294.3,392.8 L296.1,399.1 L297.8,399.8 L299.6,391.4 L301.3,389.3 L302.7,401.9 L304.1,390.0 L305.5,388.6 L306.9,385.8 L308.3,401.9 L309.7,394.2 L311.0,398.4 L312.9,390.7 L314.5,394.2 L316.4,401.9 L318.0,391.4 L319.4,395.6 L321.5,390.0 L323.6,403.3 L325.0,389.3 L326.4,395.6 L328.5,399.8 L329.9,393.5 L331.0,398.4 L332.4,391.4 L333.3,399.1 L334.1,383.0 L334.5,372.0 L335.7,351.3 L336.9,343.6 L338.0,350.3 L339.0,359.6 L339.6,365.3 L340.2,360.0 L340.9,362.6 L341.4,358.7 L342.1,351.3 L343.5,343.9 L344.4,351.3 L345.8,363.7 L347.5,376.0 L348.5,381.6 L349.6,390.7 L350.9,393.5 L352.0,388.6 L353.1,391.4 L354.1,390.0 L355.5,396.3 L356.9,390.7 L358.6,389.3 L360.1,399.1 L361.5,391.4 L362.9,389.3 L364.6,390.7 L366.0,394.9 L367.4,390.0 L368.8,396.3 L370.2,388.6 L371.3,394.2 L372.3,385.1 L373.7,397.0 L374.7,383.7 L376.0,384.4 L377.9,395.6 L379.7,384.4 L381.6,392.8 L383.5,391.4 L384.9,389.3 L386.5,387.2 L387.7,392.1 L388.8,394.2 L390.0,385.8 L391.2,384.4 L392.6,393.5 L394.0,386.5 L395.1,390.7 L396.5,385.8 L397.9,392.8 L399.5,393.5 L400.5,397.7 L401.6,392.1 L402.3,401.2 L403.5,385.8 L404.9,399.1 L406.1,390.0 L407.2,389.3 L409.1,398.4 L410.5,391.4 L411.4,386.5 L412.8,395.6 L414.5,393.5 L416.3,394.9 L417.0,397.7 L418.4,392.8 L419.5,394.2 L420.5,386.5 L421.9,392.8 L423.0,397.0 L424.0,390.7 L425.0,392.1 L427.1,386.5 L428.5,390.0 L429.6,389.3 L430.6,399.1 L431.6,385.1 L432.7,394.2 L434.1,396.3 L435.5,393.5 L436.9,399.8 L437.9,392.8 L438.7,405.4 L439.8,392.8 L441.5,399.1 L442.8,394.9 L444.2,404.7 L445.3,391.4 L446.7,400.5 L448.1,394.2 L449.5,401.9 L450.6,384.4 L451.9,397.0 L453.0,403.3 L454.4,389.3 L455.8,397.0 L456.9,391.4 L457.9,399.1 L459.3,392.8 L460.2,399.8 L461.6,402.6 L463.5,379.5 L465.3,394.2 L466.7,401.2 L468.1,388.6 L469.8,400.5 L471.4,390.7 L473.3,398.4 L474.7,393.5 L476.7,395.6 L478.8,394.2 L480.9,399.1 L482.3,388.6 L484.4,406.1 L486.1,391.4 L487.5,404.7 L488.6,392.1 L490.5,405.4 L491.9,402.6 L493.1,397.0 L494.1,385.1 L495.1,397.0 L496.9,385.8 L498.3,395.6 L499.7,390.0 L501.1,393.5 L502.1,391.4 L502.9,397.0 L503.6,385.8 L504.6,394.2 L505.3,388.6 L506.4,389.3 L507.7,397.0 L509.1,405.4 L510.9,390.0 L512.3,390.7 L513.7,399.8 L515.1,393.5 L516.1,397.7 L517.9,403.3 L519.6,394.2 L521.1,392.8 L522.8,385.1 L524.4,394.9 L525.8,385.8 L527.0,386.5 L528.4,398.4 L530.0,397.0 L531.9,392.1 L532.8,393.5 L533.7,390.0 L535.1,397.0 L536.8,399.1 L538.4,383.7 L540.0,395.6 L541.7,401.2 L543.5,391.4 L544.9,392.8 L546.3,386.5 L547.9,397.0 L549.6,392.8 L551.0,389.3 L552.8,395.6 L554.2,401.2 L555.2,393.5 L556.1,409.6 L557.0,393.5 L557.7,406.1 L558.9,393.5 L560.5,396.3 L561.9,394.9 L563.3,399.1 L565.0,388.6 L566.1,387.9 L567.5,394.2 L568.5,400.5 L569.2,390.0" fill="none" stroke="#000000" stroke-width="1" stroke-linejoin="round"/>
<g style="filter:opacity(1)">
<text x="98.40" y="449.5" font-family="Liberation Serif, serif" font-size="17.4" fill="#262626" textLength="9.3" lengthAdjust="spacingAndGlyphs">0</text>
<text x="184.25" y="449.5" font-family="Liberation Serif, serif" font-size="17.4" fill="#262626" textLength="25.1" lengthAdjust="spacingAndGlyphs">0.2</text>
<text x="276.85" y="449.5" font-family="Liberation Serif, serif" font-size="17.4" fill="#262626" textLength="25.6" lengthAdjust="spacingAndGlyphs">0.4</text>
<text x="370.55" y="449.5" font-family="Liberation Serif, serif" font-size="17.4" fill="#262626" textLength="25.3" lengthAdjust="spacingAndGlyphs">0.6</text>
<text x="463.75" y="449.5" font-family="Liberation Serif, serif" font-size="17.4" fill="#262626" textLength="25.2" lengthAdjust="spacingAndGlyphs">0.8</text>
<text x="565.15" y="449.5" font-family="Liberation Serif, serif" font-size="17.4" fill="#262626" textLength="8.7" lengthAdjust="spacingAndGlyphs">1</text>
<text x="279.2" y="469.7" font-family="Liberation Serif, serif" font-size="17.6" fill="#262626" textLength="45.6" lengthAdjust="spacingAndGlyphs">Pulse</text>
<text x="334.4" y="469.7" font-family="Liberation Serif, serif" font-size="17.6" fill="#262626" textLength="50.2" lengthAdjust="spacingAndGlyphs">Phase</text>
<text x="453.4" y="26.5" font-family="Liberation Sans, sans-serif" font-size="14" fill="#ff00ff" stroke="#ff00ff" stroke-width="0.1" xml:space="preserve" textLength="102.0" lengthAdjust="spacingAndGlyphs">MWA   192 MHz</text>
<text x="453.4" y="39.5" font-family="Liberation Sans, sans-serif" font-size="14" fill="#00ffff" stroke="#00ffff" stroke-width="0.1" xml:space="preserve" textLength="103.0" lengthAdjust="spacingAndGlyphs">Parkes 438 MHz</text>
<text x="453.4" y="52.7" font-family="Liberation Sans, sans-serif" font-size="14" fill="#0000ff" stroke="#0000ff" stroke-width="0.1" xml:space="preserve" textLength="103.0" lengthAdjust="spacingAndGlyphs">Parkes 732 MHz</text>
<text x="453.4" y="65.9" font-family="Liberation Sans, sans-serif" font-size="14" fill="#ff0000" stroke="#ff0000" stroke-width="0.1" xml:space="preserve" textLength="99.9" lengthAdjust="spacingAndGlyphs">Parkes 1.4 GHz</text>
<text x="453.4" y="79.1" font-family="Liberation Sans, sans-serif" font-size="14" fill="#00ff00" stroke="#00ff00" stroke-width="0.1" xml:space="preserve" textLength="99.9" lengthAdjust="spacingAndGlyphs">Parkes 3.1 GHz</text>
<text x="453.4" y="92.3" font-family="Liberation Sans, sans-serif" font-size="14" fill="#a8a800" stroke="#a8a800" stroke-width="0.1" xml:space="preserve" textLength="99.9" lengthAdjust="spacingAndGlyphs">Parkes 6.6 GHz</text>
<text x="453.4" y="105.5" font-family="Liberation Sans, sans-serif" font-size="14" fill="#000000" stroke="#000000" stroke-width="0.1" xml:space="preserve" textLength="99.9" lengthAdjust="spacingAndGlyphs">Parkes  17 GHz</text>
</g>
</svg>
</body></html>
